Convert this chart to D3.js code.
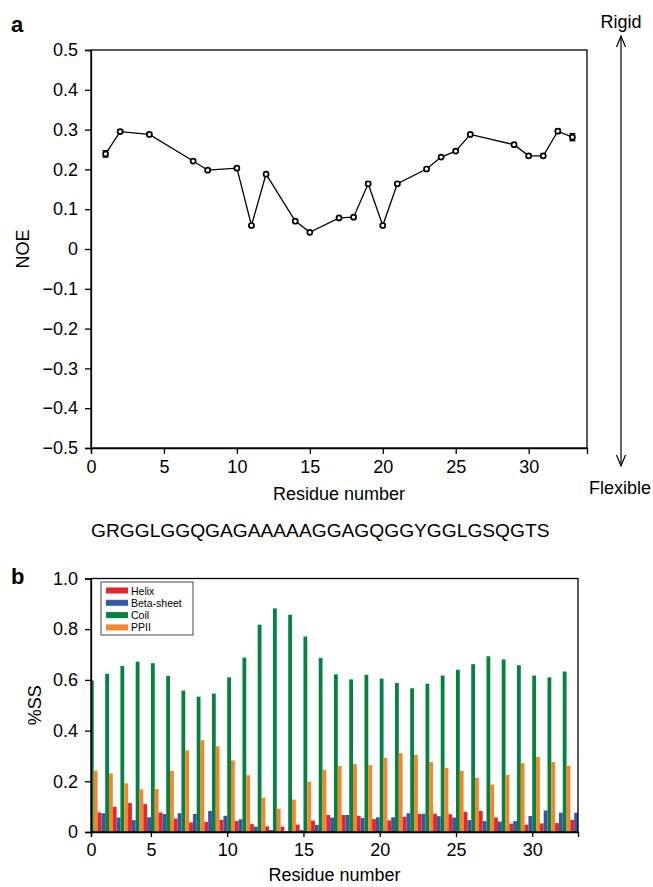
<!DOCTYPE html>
<html>
<head>
<meta charset="utf-8">
<script src="https://cdn.jsdelivr.net/npm/d3@7"></script>
<style>
  body { margin: 0; background: #fff; }
  svg { display: block; font-family: "Liberation Sans", Arial, sans-serif; }
  .axis path, .axis line { stroke: #000; stroke-width: 1.3; }
  .axis text { font-size: 18px; fill: #000; }
</style>
</head>
<body>
<div id="chart"></div>
<script>
// panel a: heteronuclear NOE per residue
const noeResidue = [1, 2, 4, 7, 8, 10, 11, 12, 14, 15, 17, 18, 19, 20, 21, 23, 24, 25, 26, 29, 30, 31, 32, 33];
const noeValue = [0.239, 0.295, 0.288, 0.221, 0.198, 0.203, 0.059, 0.188, 0.070, 0.042, 0.078, 0.080,
                  0.164, 0.059, 0.164, 0.201, 0.231, 0.246, 0.288, 0.262, 0.234, 0.234, 0.296, 0.281];
const noeError = [0.008, 0.004, 0.003, 0.003, 0.003, 0.003, 0.003, 0.003, 0.003, 0.003, 0.003, 0.003,
                  0.004, 0.003, 0.003, 0.003, 0.003, 0.003, 0.003, 0.004, 0.004, 0.004, 0.005, 0.009];
const noeTicks = [-0.5, -0.4, -0.3, -0.2, -0.1, 0, 0.1, 0.2, 0.3, 0.4, 0.5];
const residueTicksA = [0, 5, 10, 15, 20, 25, 30];
const sequence = "GRGGLGGQGAGAAAAAGGAGQGGYGGLGSQGTS";

// panel b: secondary structure fractions per residue
const residues = [1, 2, 3, 4, 5, 6, 7, 8, 9, 10, 11, 12, 13, 14, 15, 16, 17, 18, 19, 20, 21, 22, 23, 24, 25, 26, 27, 28, 29, 30, 31, 32, 33];
const helix = [0.070, 0.077, 0.099, 0.114, 0.110, 0.077, 0.053, 0.038, 0.040, 0.048, 0.043, 0.031, 0.022, 0.021, 0.029, 0.045,
               0.067, 0.067, 0.064, 0.051, 0.046, 0.060, 0.071, 0.072, 0.070, 0.080, 0.083, 0.057, 0.033, 0.029, 0.034, 0.035, 0.048];
const betaSheet = [0.070, 0.074, 0.057, 0.047, 0.058, 0.071, 0.074, 0.071, 0.083, 0.064, 0.050, 0.021, 0.008, 0.002, 0.008, 0.028,
                   0.057, 0.067, 0.055, 0.058, 0.058, 0.074, 0.072, 0.062, 0.057, 0.047, 0.043, 0.041, 0.043, 0.063, 0.085, 0.076, 0.076];
const coil = [0.598, 0.624, 0.655, 0.672, 0.666, 0.616, 0.558, 0.534, 0.546, 0.610, 0.688, 0.818, 0.882, 0.857, 0.771, 0.687,
              0.622, 0.602, 0.620, 0.605, 0.588, 0.567, 0.585, 0.617, 0.640, 0.662, 0.693, 0.681, 0.658, 0.617, 0.610, 0.633, 0.600];
const ppii = [0.242, 0.231, 0.192, 0.168, 0.170, 0.241, 0.322, 0.362, 0.338, 0.282, 0.224, 0.135, 0.092, 0.128, 0.198, 0.245,
              0.260, 0.268, 0.264, 0.292, 0.311, 0.304, 0.276, 0.253, 0.241, 0.214, 0.187, 0.225, 0.271, 0.296, 0.276, 0.261, 0.270];
const seriesNames = ["Helix", "Beta-sheet", "Coil", "PPII"];
const seriesColors = ["#e2262b", "#3b55a5", "#05823f", "#f3862b"];
const ssTicks = [0, 0.2, 0.4, 0.6, 0.8, 1.0];
const residueTicksB = [5, 10, 15, 20, 25, 30];

const width = 653, height = 887;

const svg = d3.select("#chart").append("svg")
    .attr("width", width)
    .attr("height", height);

// ---------- panel a ----------
const boxA = {left: 91, right: 587, top: 50, bottom: 448};
const xA = d3.scaleLinear().domain([0, 34]).range([boxA.left, boxA.right]);
const yA = d3.scaleLinear().domain([-0.5, 0.5]).range([boxA.bottom, boxA.top]);

const fmtA = d => Math.abs(d) < 1e-9 ? "0" : d3.format(".1f")(d);

svg.append("g").attr("class", "axis")
    .attr("transform", "translate(0," + boxA.bottom + ")")
    .call(d3.axisBottom(xA).tickValues(residueTicksA).tickSizeOuter(0).tickSize(6).tickPadding(6));

svg.append("g").attr("class", "axis")
    .attr("transform", "translate(" + boxA.left + ",0)")
    .call(d3.axisLeft(yA).tickValues(noeTicks).tickFormat(fmtA).tickSizeOuter(0).tickSize(6).tickPadding(7));

svg.append("rect")
    .attr("x", boxA.left).attr("y", boxA.top)
    .attr("width", boxA.right - boxA.left).attr("height", boxA.bottom - boxA.top)
    .attr("fill", "none").attr("stroke", "#000").attr("stroke-width", 1.3);

const noeData = noeResidue.map((r, i) => ({r: r, v: noeValue[i], e: noeError[i]}));

svg.append("path")
    .datum(noeData)
    .attr("fill", "none")
    .attr("stroke", "#000")
    .attr("stroke-width", 1.3)
    .attr("d", d3.line().x(d => xA(d.r)).y(d => yA(d.v)));

const err = svg.append("g").selectAll("g")
    .data(noeData)
    .enter().append("g");

err.append("line")
    .attr("x1", d => xA(d.r)).attr("x2", d => xA(d.r))
    .attr("y1", d => yA(d.v - d.e)).attr("y2", d => yA(d.v + d.e))
    .attr("stroke", "#000").attr("stroke-width", 1);
err.append("line")
    .attr("x1", d => xA(d.r) - 3).attr("x2", d => xA(d.r) + 3)
    .attr("y1", d => yA(d.v + d.e)).attr("y2", d => yA(d.v + d.e))
    .attr("stroke", "#000").attr("stroke-width", 1.3);
err.append("line")
    .attr("x1", d => xA(d.r) - 3).attr("x2", d => xA(d.r) + 3)
    .attr("y1", d => yA(d.v - d.e)).attr("y2", d => yA(d.v - d.e))
    .attr("stroke", "#000").attr("stroke-width", 1.3);
err.append("circle")
    .attr("cx", d => xA(d.r)).attr("cy", d => yA(d.v))
    .attr("r", 2.5)
    .attr("fill", "#fff").attr("stroke", "#000").attr("stroke-width", 1.7);

svg.append("text")
    .attr("x", (boxA.left + boxA.right) / 2).attr("y", 500)
    .attr("text-anchor", "middle").attr("font-size", "18px")
    .text("Residue number");

svg.append("text")
    .attr("transform", "translate(29," + yA(0) + ") rotate(-90)")
    .attr("text-anchor", "middle").attr("font-size", "18px")
    .text("NOE");

svg.append("text")
    .attr("x", 11).attr("y", 32)
    .attr("font-size", "22px").attr("font-weight", "bold")
    .text("a");

// rigid / flexible arrow
const arrowX = 621;
svg.append("line")
    .attr("x1", arrowX).attr("x2", arrowX).attr("y1", 36).attr("y2", 466)
    .attr("stroke", "#000").attr("stroke-width", 1.2);
svg.append("path")
    .attr("d", `M${arrowX - 4.5},47 L${arrowX},36 L${arrowX + 4.5},47 M${arrowX - 4.5},455 L${arrowX},466 L${arrowX + 4.5},455`)
    .attr("fill", "none").attr("stroke", "#000").attr("stroke-width", 1.2);
svg.append("text")
    .attr("x", arrowX).attr("y", 28)
    .attr("text-anchor", "middle").attr("font-size", "18px")
    .text("Rigid");
svg.append("text")
    .attr("x", arrowX - 1).attr("y", 494)
    .attr("text-anchor", "middle").attr("font-size", "18px")
    .text("Flexible");

svg.append("text")
    .attr("x", 91).attr("y", 537)
    .attr("font-size", "19.2px")
    .text(sequence);

// ---------- panel b ----------
const boxB = {left: 91, right: 578, top: 578.5, bottom: 832};
const xB = d3.scaleLinear().domain([1.07, 33]).range([boxB.left, boxB.right]);
const yB = d3.scaleLinear().domain([0, 1]).range([boxB.bottom, boxB.top]);

svg.append("clipPath").attr("id", "clipB")
    .append("rect")
    .attr("x", boxB.left).attr("y", boxB.top)
    .attr("width", boxB.right - boxB.left).attr("height", boxB.bottom - boxB.top);

const series = [helix, betaSheet, coil, ppii];
const barData = [];
residues.forEach((r, i) => {
    series.forEach((s, k) => {
        barData.push({r: r, k: k, v: s[i]});
    });
});

svg.append("g")
    .attr("clip-path", "url(#clipB)")
    .selectAll("rect")
    .data(barData)
    .enter().append("rect")
    .attr("x", d => xB(d.r - 0.5 + d.k * 0.25))
    .attr("width", d => xB(d.r - 0.25 + d.k * 0.25) - xB(d.r - 0.5 + d.k * 0.25))
    .attr("y", d => yB(d.v))
    .attr("height", d => yB(0) - yB(d.v))
    .attr("fill", d => seriesColors[d.k]);

svg.append("g").attr("class", "axis")
    .attr("transform", "translate(0," + boxB.bottom + ")")
    .call(d3.axisBottom(xB).tickValues([xB.domain()[0]].concat(residueTicksB))
        .tickFormat(d => d < 5 ? "0" : d).tickSizeOuter(0).tickSize(5).tickPadding(6));

svg.append("g").attr("class", "axis")
    .attr("transform", "translate(" + boxB.left + ",0)")
    .call(d3.axisLeft(yB).tickValues(ssTicks).tickFormat(d => d === 0 ? "0" : d3.format(".1f")(d))
        .tickSizeOuter(0).tickSize(6).tickPadding(7));

svg.append("rect")
    .attr("x", boxB.left).attr("y", boxB.top)
    .attr("width", boxB.right - boxB.left).attr("height", boxB.bottom - boxB.top)
    .attr("fill", "none").attr("stroke", "#000").attr("stroke-width", 1.3);

// legend
const legend = svg.append("g").attr("transform", "translate(101,582)");
legend.append("rect")
    .attr("width", 92).attr("height", 53)
    .attr("fill", "#fff").attr("stroke", "#444").attr("stroke-width", 1);
seriesNames.forEach((name, i) => {
    legend.append("rect")
        .attr("x", 5).attr("y", 5.5 + i * 12.3)
        .attr("width", 22).attr("height", 6)
        .attr("fill", seriesColors[i]);
    legend.append("text")
        .attr("x", 30).attr("y", 12.5 + i * 12.3)
        .attr("font-size", "10.5px")
        .text(name);
});

svg.append("text")
    .attr("x", (boxB.left + boxB.right) / 2).attr("y", 881)
    .attr("text-anchor", "middle").attr("font-size", "18px")
    .text("Residue number");

svg.append("text")
    .attr("transform", "translate(41," + yB(0.5) + ") rotate(-90)")
    .attr("text-anchor", "middle").attr("font-size", "18px")
    .text("%SS");

svg.append("text")
    .attr("x", 11).attr("y", 584)
    .attr("font-size", "22px").attr("font-weight", "bold")
    .text("b");
</script>
</body>
</html>
